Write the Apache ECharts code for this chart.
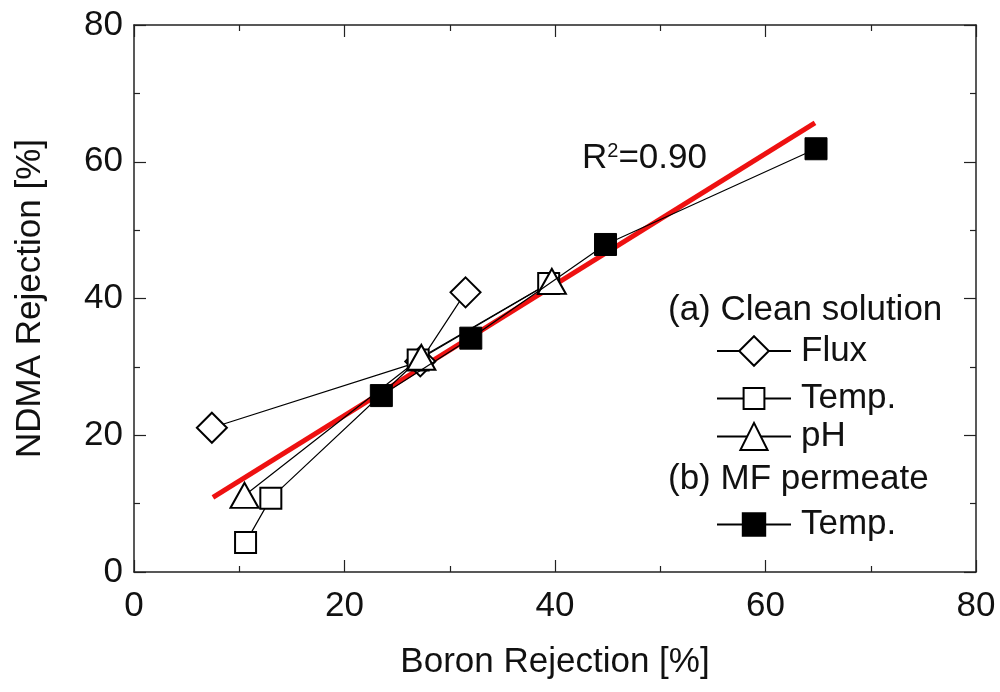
<!DOCTYPE html>
<html>
<head>
<meta charset="utf-8">
<script src="https://cdn.jsdelivr.net/npm/echarts@6/dist/echarts.min.js"></script>
<style>
  html, body { margin: 0; padding: 0; background: #fff; }
  #main { width: 1000px; height: 692px; }
</style>
</head>
<body>
<div id="main"></div>
<script>
// values: [boron rejection %, NDMA rejection %]
var fluxData = [[7.4, 21.1], [27.2, 30.8], [31.5, 40.9]];
var tempCleanData = [[10.6, 4.3], [13.0, 10.8], [27.0, 31.0], [39.4, 42.2]];
var phData = [[10.5, 11.2], [27.3, 31.4], [39.7, 42.5]];
var tempMfData = [[23.5, 25.8], [32.0, 34.2], [44.8, 47.9], [64.8, 61.9]];
var fitLine = [[7.5, 10.9], [64.7, 65.7]];
var tickValues = [0, 20, 40, 60, 80];

var FONT = 'Liberation Sans, Arial, sans-serif';
var FS = 35;
var chart = echarts.init(document.getElementById('main'));

function axisBase(show) {
    return {
        type: 'value',
        min: 0, max: 80, interval: 20,
        axisLine: { show: true, onZero: false, lineStyle: { color: '#222', width: 1.5 } },
        axisTick: { show: true, inside: true, length: 12, lineStyle: { color: '#222', width: 1.2 } },
        minorTick: { show: true, splitNumber: 2, length: 6, lineStyle: { color: '#222', width: 1.2 } },
        splitLine: { show: false },
        axisLabel: {
            show: show, color: '#111', fontSize: FS, fontFamily: FONT,
            formatter: function (v) { return tickValues.indexOf(v) >= 0 ? String(v) : ''; }
        }
    };
}

var xMain = axisBase(true);
xMain.position = 'bottom';
xMain.axisLabel.margin = 17;
xMain.name = 'Boron Rejection [%]';
xMain.nameLocation = 'middle';
xMain.nameGap = 73;
xMain.nameTextStyle = { color: '#111', fontSize: FS, fontFamily: FONT };

var xTop = axisBase(false);
xTop.position = 'top';

var yMain = axisBase(true);
yMain.position = 'left';
yMain.axisLabel.margin = 11;
yMain.name = 'NDMA Rejection [%]';
yMain.nameLocation = 'middle';
yMain.nameGap = 86;
yMain.nameTextStyle = { color: '#111', fontSize: FS, fontFamily: FONT };

var yRight = axisBase(false);
yRight.position = 'right';

function openSeries(name, data, symbol, size) {
    return {
        name: name, type: 'line', data: data,
        symbol: symbol, symbolSize: size,
        lineStyle: { color: '#000', width: 1.2 },
        itemStyle: { color: '#fff', borderColor: '#000', borderWidth: 2 },
        emphasis: { disabled: true },
        z: 3
    };
}

// one legend per entry so each icon can have its own size
function legendRow(name, centerY, h, label) {
    var lg = {
        data: [name],
        orient: 'vertical',
        left: 716, top: centerY - h / 2,
        padding: 0,
        itemWidth: 74, itemHeight: h,
        textStyle: { color: '#111', fontSize: FS, fontFamily: FONT, padding: [0, 0, 0, 5] },
        selectedMode: false
    };
    if (label) lg.formatter = function () { return label; };
    return lg;
}

var option = {
    animation: false,
    backgroundColor: '#fff',
    grid: { left: 134, right: 24, top: 25, bottom: 120, containLabel: false },
    xAxis: [xMain, xTop],
    yAxis: [yMain, yRight],
    legend: [
        legendRow('Flux', 352, 37),
        legendRow('Temp.', 394, 26),
        legendRow('pH', 436, 34),
        legendRow('Temp. MF', 521, 28, 'Temp.')
    ],
    graphic: [{
        type: 'text', left: 668, top: 293,
        style: { text: '(a) Clean solution', fill: '#111', font: FS + 'px ' + FONT }
    }, {
        type: 'text', left: 668, top: 462,
        style: { text: '(b) MF permeate', fill: '#111', font: FS + 'px ' + FONT }
    }, {
        type: 'text', left: 582, top: 141,
        style: {
            text: '{a|R}{s|2}{a|=0.90}',
            rich: {
                a: { fill: '#111', fontSize: FS, fontFamily: FONT },
                s: { fill: '#111', fontSize: 20, fontFamily: FONT, verticalAlign: 'top', padding: [0, 0, 14, 0] }
            }
        }
    }],
    series: [
        {
            name: 'fit', type: 'line', data: fitLine,
            symbol: 'none', lineStyle: { color: '#ee1111', width: 5 },
            emphasis: { disabled: true }, z: 2
        },
        openSeries('Flux', fluxData, 'diamond', 30),
        openSeries('Temp.', tempCleanData, 'rect', 21),
        openSeries('pH', phData, 'triangle', [28, 25]),
        {
            name: 'Temp. MF', type: 'line', data: tempMfData,
            symbol: 'rect', symbolSize: 22,
            lineStyle: { color: '#000', width: 1.2 },
            itemStyle: { color: '#000', borderColor: '#000', borderWidth: 1 },
            emphasis: { disabled: true }, z: 4
        }
    ]
};

chart.setOption(option);
</script>
</body>
</html>
